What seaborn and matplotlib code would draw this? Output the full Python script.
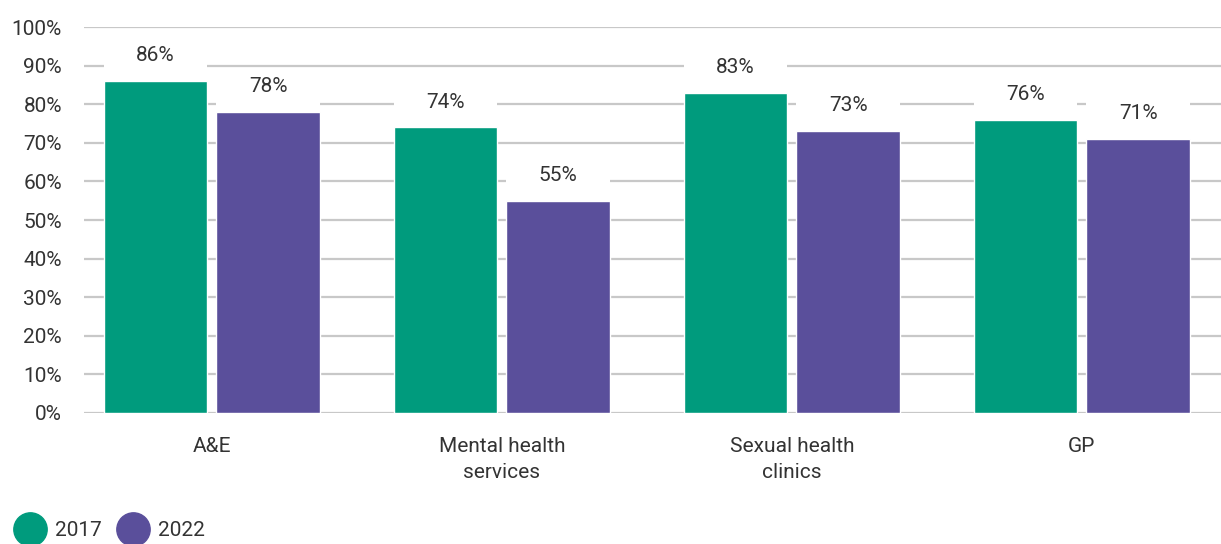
import pandas as pd
import numpy as np
import matplotlib
matplotlib.use("Agg")
import matplotlib.pyplot as plt
import seaborn as sns
from matplotlib.lines import Line2D
from matplotlib.patches import Rectangle

# data
categories = ["A&E", "Mental health\nservices", "Sexual health\nclinics", "GP"]
years = ["2017", "2022"]
values_2017 = [86, 74, 83, 76]
values_2022 = [78, 55, 73, 71]
colors = ["#009b7d", "#5a4f9b"]

df = pd.DataFrame({
    "category": categories * 2,
    "year": [years[0]] * 4 + [years[1]] * 4,
    "value": values_2017 + values_2022,
})

sns.set_theme(style="white")
plt.rcParams["font.family"] = ["Liberation Sans Narrow", "Roboto", "DejaVu Sans"]
text_color = "#333333"

fig = plt.figure(figsize=(12.21, 5.44), dpi=100)
ax = fig.add_axes([0.069, 0.241, 0.931, 0.709])

sns.barplot(data=df, x="category", y="value", hue="year", palette=colors,
            width=0.776, gap=0.08, saturation=1, legend=False, ax=ax, zorder=3)

ax.set_ylim(0, 100)
ax.set_xlim(-0.44, 3.48)
ax.set_yticks(np.arange(0, 101, 10))
ax.set_yticklabels([f"{v}%" for v in range(0, 101, 10)])
ax.yaxis.grid(True, color="#c8c8c8", linewidth=1.6, zorder=0)
ax.set_axisbelow(True)
for s in ax.spines.values():
    s.set_visible(False)
ax.tick_params(axis="both", length=0, labelsize=15, labelcolor=text_color)
ax.tick_params(axis="x", pad=17)
ax.tick_params(axis="y", pad=16)
ax.set_xlabel("")
ax.set_ylabel("")
for lbl in ax.get_xticklabels():
    lbl.set_linespacing(1.5)

# white mask above each bar (hides gridlines behind the value label) + label
for cont in ax.containers:
    for bar in cont:
        x0, w, h = bar.get_x(), bar.get_width(), bar.get_height()
        ax.add_patch(Rectangle((x0, h), w, 10.5, facecolor="white",
                               edgecolor="none", zorder=2))
        ax.text(x0 + w / 2, h + 6.6, f"{h:.0f}%", ha="center", va="center",
                fontsize=15, color=text_color, zorder=4)

handles = [Line2D([], [], marker="o", linestyle="", markersize=24,
                  markerfacecolor=c, markeredgecolor=c) for c in colors]
fig.legend(handles, years, loc="lower left", bbox_to_anchor=(-0.008, -0.028),
           ncol=2, frameon=False, fontsize=15, handletextpad=0.2,
           columnspacing=0.5, labelcolor=text_color)

fig.savefig("out.png", dpi=100)
